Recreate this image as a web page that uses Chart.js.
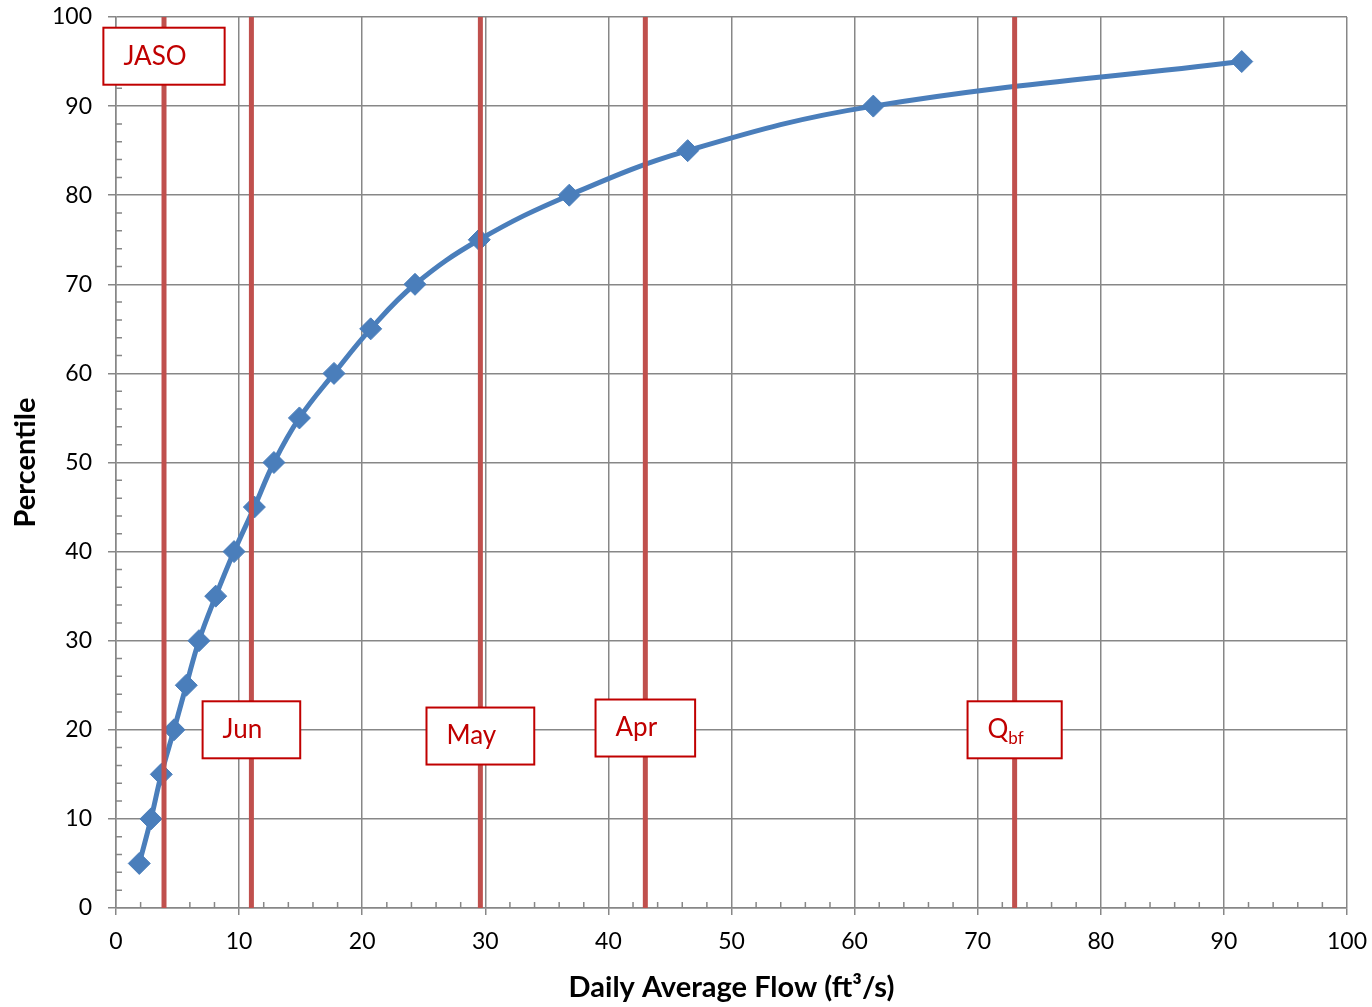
<!DOCTYPE html>
<html>
<head>
<meta charset="utf-8">
<script src="https://cdn.jsdelivr.net/npm/chart.js@4.4.1/dist/chart.umd.min.js"></script>
<style>
  body { margin: 0; background: #fff; }
  #wrap { width: 1372px; height: 1007px; position: relative; }
</style>
</head>
<body>
<div id="wrap"><canvas id="flowChart"></canvas></div>
<script>
// flow duration data
const percentiles = [5, 10, 15, 20, 25, 30, 35, 40, 45, 50, 55, 60, 65, 70, 75, 80, 85, 90, 95];
const flows = [1.89, 2.84, 3.68, 4.71, 5.71, 6.74, 8.1, 9.59, 11.24, 12.83, 14.9, 17.71, 20.69, 24.29, 29.51, 36.82, 46.44, 61.52, 91.45];

// reference flows (vertical lines) and their labels
const refNames = ['JASO', 'Jun', 'May', 'Apr', 'Q'];
const refSubs = ['', '', '', '', 'bf'];
const refFlows = [3.9, 11.0, 29.6, 43.0, 73.0];
const refLabelY = [95.6, 20, 19.3, 20.2, 20];

const xTicks = [0, 10, 20, 30, 40, 50, 60, 70, 80, 90, 100];
const yTicks = [0, 10, 20, 30, 40, 50, 60, 70, 80, 90, 100];

const gridColor = '#878787';
const FONT = 'Lato';

const refDatasets = refFlows.map(f => ({
    data: [{x: f, y: 0}, {x: f, y: 100}],
    showLine: true,
    borderColor: '#C0504D',
    borderWidth: 5,
    pointRadius: 0,
    order: 1
}));

// minor tick marks every 2 units, drawn inside the plot
const minorTicks = {
    id: 'minorTicks',
    beforeDatasetsDraw(chart) {
        const {ctx, scales: {x, y}} = chart;
        ctx.save();
        ctx.strokeStyle = gridColor;
        ctx.lineWidth = 1.5;
        ctx.beginPath();
        for (let v = 2; v < 100; v += 2) {
            if (v % 10 === 0) continue;
            const px = x.getPixelForValue(v);
            ctx.moveTo(px, y.bottom);
            ctx.lineTo(px, y.bottom - 6);
            const py = y.getPixelForValue(v);
            ctx.moveTo(x.left, py);
            ctx.lineTo(x.left + 6, py);
        }
        ctx.stroke();
        ctx.restore();
    }
};

// boxed labels for the reference lines
const refLabels = {
    id: 'refLabels',
    afterDatasetsDraw(chart) {
        const {ctx, scales: {x, y}} = chart;
        ctx.save();
        refNames.forEach((name, i) => {
            ctx.font = '26px ' + FONT;
            let w = ctx.measureText(name).width;
            let subW = 0;
            if (refSubs[i]) {
                ctx.font = '17px ' + FONT;
                subW = ctx.measureText(refSubs[i]).width;
            }
            const boxW = w + subW + 58;
            const boxH = 57;
            const cx = x.getPixelForValue(refFlows[i]);
            const cy = y.getPixelForValue(refLabelY[i]);
            const left = cx - boxW / 2;
            const top = cy - boxH / 2;
            ctx.fillStyle = '#fff';
            ctx.fillRect(left, top, boxW, boxH);
            ctx.strokeStyle = '#C00000';
            ctx.lineWidth = 2;
            ctx.strokeRect(left, top, boxW, boxH);
            ctx.fillStyle = '#C00000';
            ctx.textBaseline = 'middle';
            ctx.textAlign = 'left';
            ctx.font = '26px ' + FONT;
            ctx.fillText(name, left + 20, cy);
            if (refSubs[i]) {
                ctx.font = '17px ' + FONT;
                ctx.fillText(refSubs[i], left + 20 + w, cy + 9);
            }
        });
        ctx.restore();
    }
};

const ctx = document.getElementById('flowChart').getContext('2d');
new Chart(ctx, {
    type: 'scatter',
    data: {
        datasets: [{
            data: flows.map((f, i) => ({x: f, y: percentiles[i]})),
            showLine: true,
            tension: 0.4,
            borderColor: '#4A7EBB',
            borderWidth: 5,
            pointStyle: 'rectRot',
            pointRadius: 11,
            pointBackgroundColor: '#4A7EBB',
            pointBorderColor: '#4A7EBB',
            pointBorderWidth: 1,
            order: 2
        }, ...refDatasets]
    },
    options: {
        responsive: true,
        maintainAspectRatio: false,
        animation: false,
        layout: { padding: { top: 17, right: 25, left: 0, bottom: 0 } },
        plugins: {
            legend: { display: false },
            tooltip: { enabled: false }
        },
        scales: {
            x: {
                type: 'linear',
                min: 0,
                max: 100,
                afterBuildTicks: s => { s.ticks = xTicks.map(v => ({value: v})); },
                afterFit: s => { s.height = 99; s.paddingLeft = 0; s.paddingRight = 0; },
                grid: { color: gridColor, lineWidth: 1.5, tickLength: 7, drawTicks: true },
                border: { color: gridColor, width: 1.5 },
                ticks: { color: '#000', font: { family: FONT, size: 23 }, padding: 13, maxRotation: 0 },
                title: {
                    display: true,
                    text: 'Daily Average Flow (ft³/s)',
                    color: '#000',
                    font: { family: FONT, size: 29, weight: 'bold' },
                    padding: { top: 4, bottom: 2 }
                }
            },
            y: {
                type: 'linear',
                min: 0,
                max: 100,
                afterBuildTicks: s => { s.ticks = yTicks.map(v => ({value: v})); },
                afterFit: s => { s.width = 116; s.paddingTop = 0; s.paddingBottom = 0; },
                grid: { color: gridColor, lineWidth: 1.5, tickLength: 8, drawTicks: true },
                border: { color: gridColor, width: 1.5 },
                ticks: { color: '#000', font: { family: FONT, size: 23 }, padding: 16 },
                title: {
                    display: true,
                    text: 'Percentile',
                    color: '#000',
                    font: { family: FONT, size: 29, weight: 'bold' },
                    padding: { top: 8, bottom: 4 }
                }
            }
        }
    },
    plugins: [minorTicks, refLabels]
});
</script>
</body>
</html>
